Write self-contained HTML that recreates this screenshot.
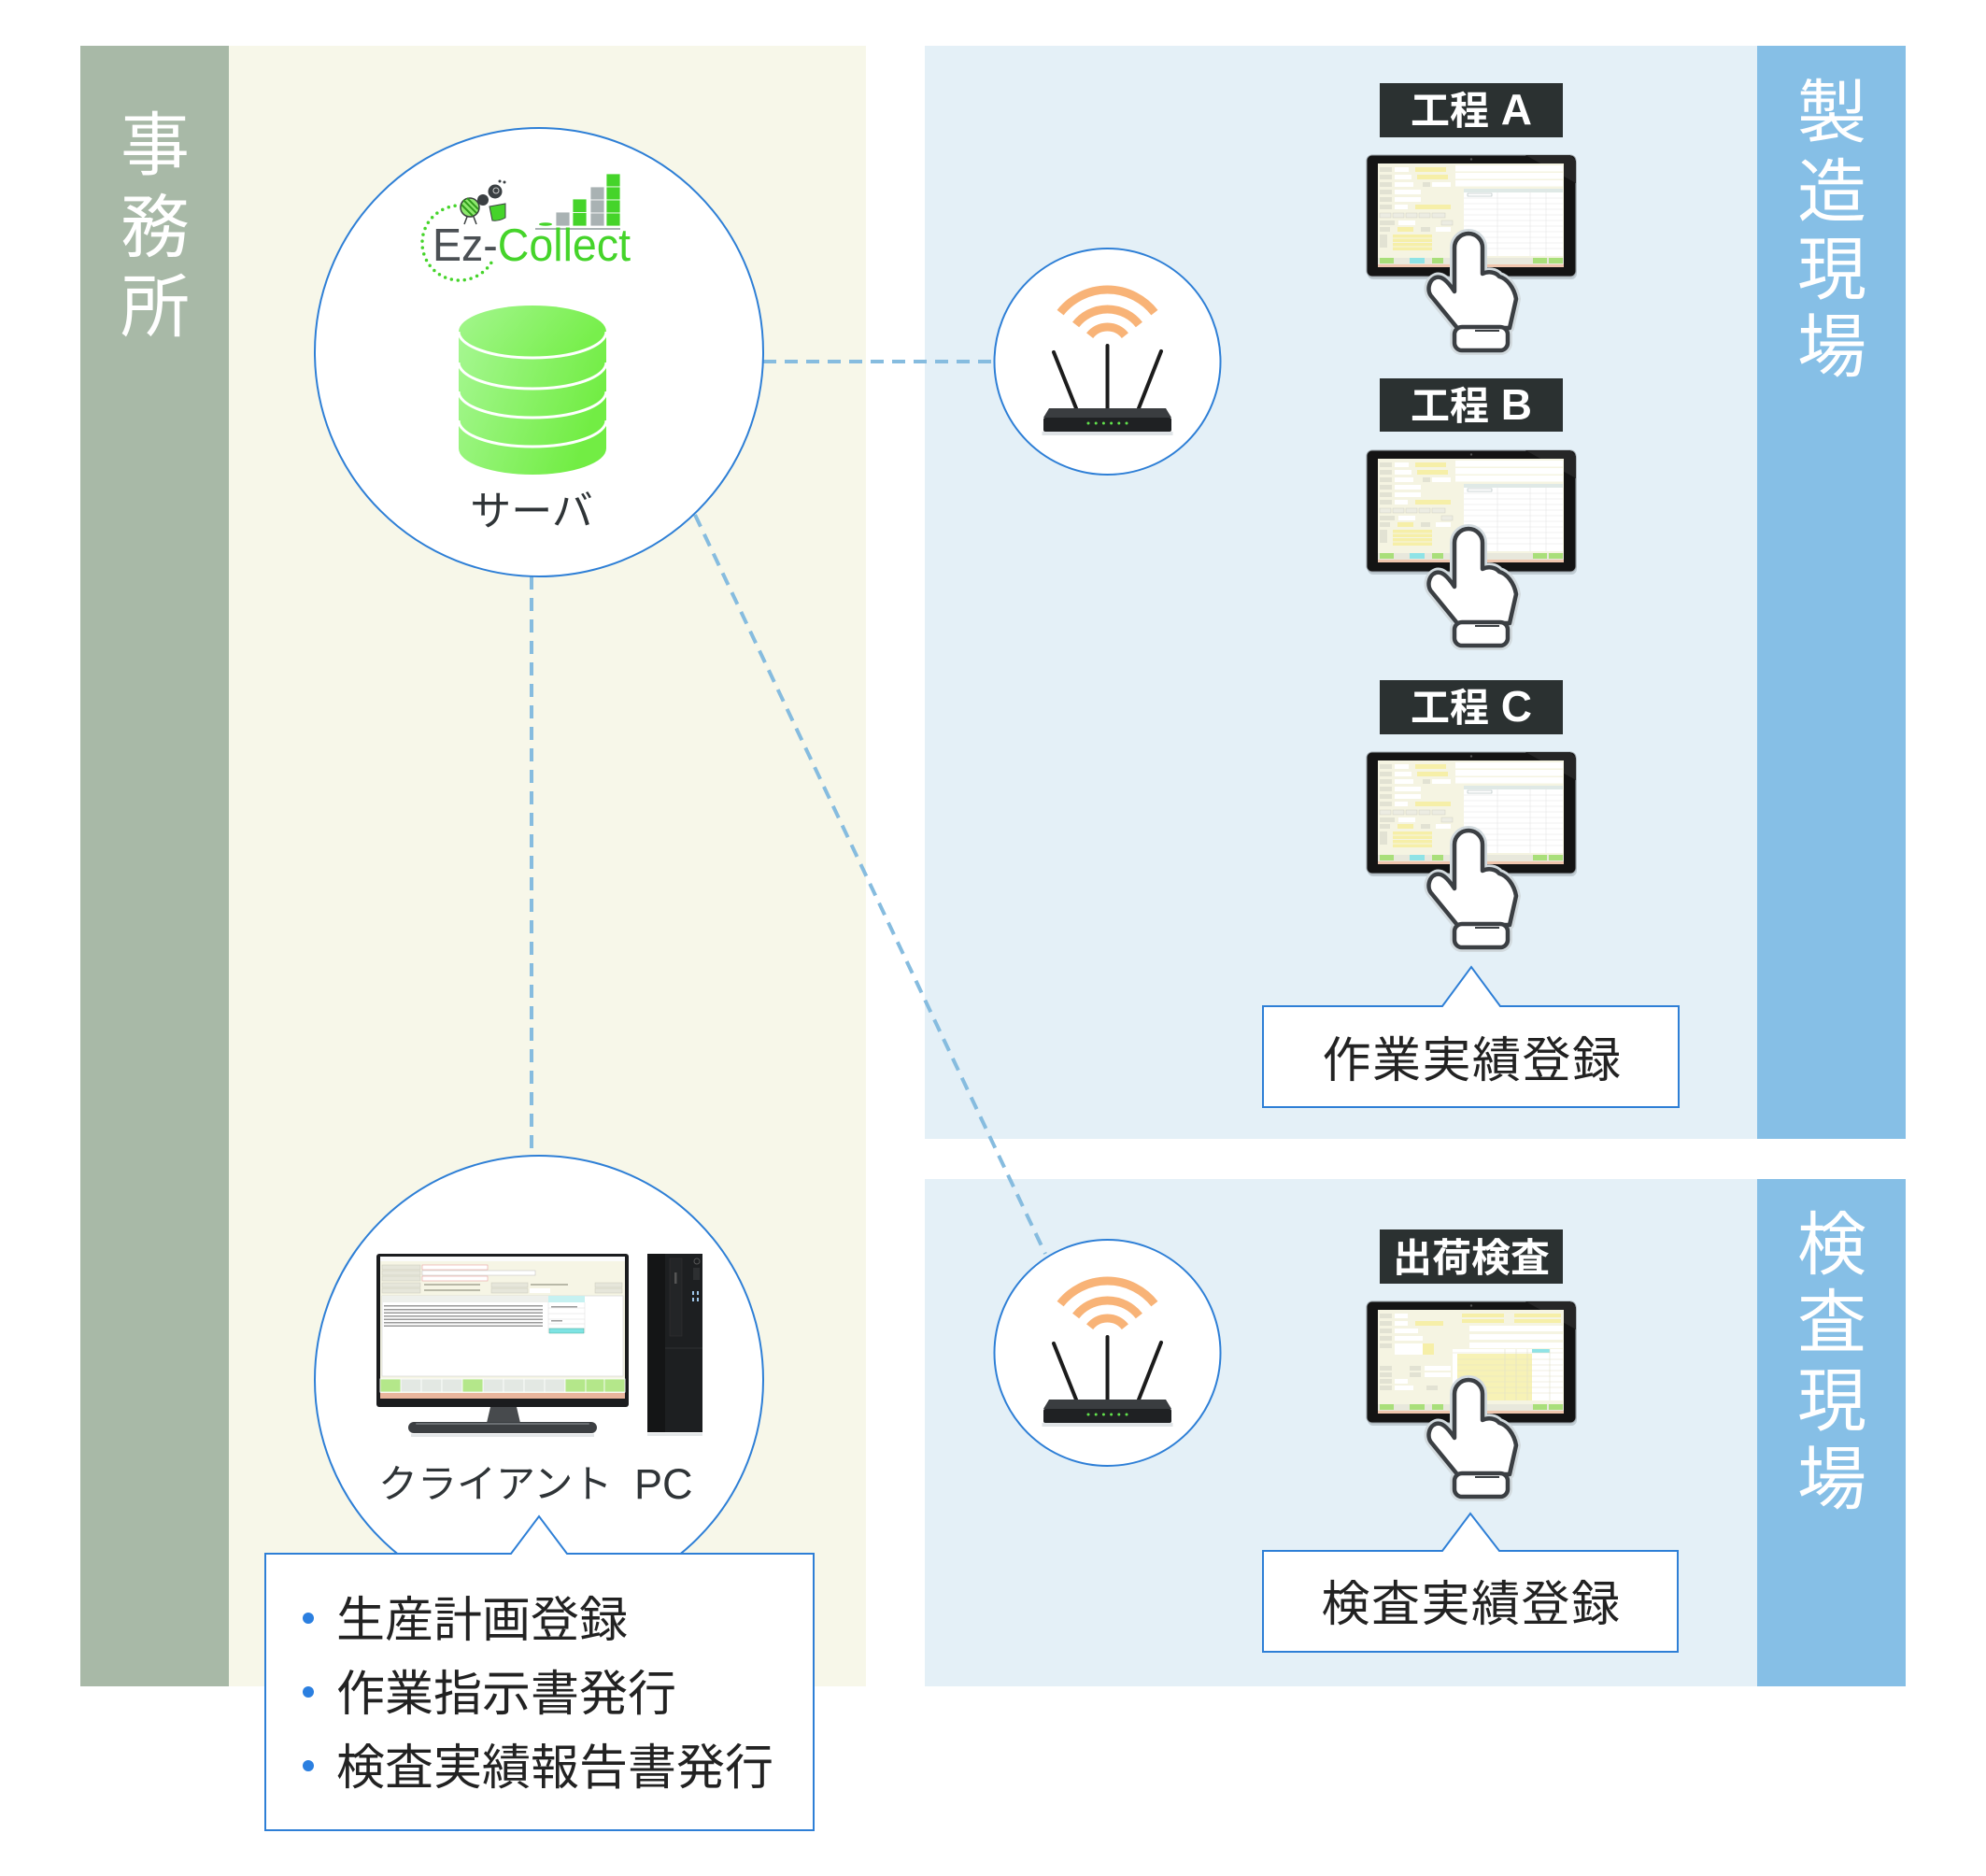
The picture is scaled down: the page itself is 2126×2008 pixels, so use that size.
<!DOCTYPE html>
<html><head><meta charset="utf-8"><style>
html,body{margin:0;padding:0;background:#fff;}
body{width:2126px;height:2008px;overflow:hidden;}
svg{display:block;}
</style></head><body>
<svg width="2126" height="2008" viewBox="0 0 2126 2008" xmlns="http://www.w3.org/2000/svg" font-family="'Liberation Sans','Noto Sans CJK JP',sans-serif">
<defs>
<linearGradient id="cyl" x1="0" y1="0" x2="1" y2="0.35"><stop offset="0" stop-color="#a6f792"/><stop offset="1" stop-color="#72ed44"/></linearGradient>
<linearGradient id="cyltop" x1="0" y1="0" x2="1" y2="0.3"><stop offset="0" stop-color="#a4f68f"/><stop offset="1" stop-color="#78ef4c"/></linearGradient>
</defs>
<rect width="2126" height="2008" fill="#fff"/>
<!-- zones -->
<rect x="86" y="49" width="159" height="1756" fill="#a8b9a7"/>
<rect x="245" y="49" width="682" height="1756" fill="#f7f7e9"/>
<rect x="990" y="49" width="891" height="1170" fill="#e4f0f7"/>
<rect x="1881" y="49" width="159" height="1170" fill="#86bfe6"/>
<rect x="990" y="1262" width="891" height="543" fill="#e4f0f7"/>
<rect x="1881" y="1262" width="159" height="543" fill="#86bfe6"/>

<!-- vertical labels -->
<g fill="#ffffff" font-size="74" text-anchor="middle">
<text x="166" y="181">事</text><text x="166" y="269">務</text><text x="166" y="354">所</text>
<text x="1961" y="146">製</text><text x="1961" y="231">造</text><text x="1961" y="314">現</text><text x="1961" y="397">場</text>
<text x="1961" y="1358">検</text><text x="1961" y="1441">査</text><text x="1961" y="1525">現</text><text x="1961" y="1609">場</text>
</g>

<!-- dashed connectors -->
<g stroke="#86bcdf" stroke-width="4" stroke-dasharray="14 9" fill="none">
<line x1="817" y1="387" x2="1064" y2="387"/>
<line x1="569" y1="617" x2="569" y2="1237"/>
<line x1="744" y1="551" x2="1119" y2="1342"/>
</g>

<!-- server circle -->
<circle cx="577" cy="377" r="240" fill="#fff" stroke="#2e7fd6" stroke-width="2"/>
<!-- logo -->
<path d="M487.1,220.3 A40,40 0 1 0 526.6,280" fill="none" stroke="#45d42a" stroke-width="3.5" stroke-linecap="round" stroke-dasharray="0 7"/>
<g>
<circle cx="503" cy="222" r="10" fill="#8ee86e" stroke="#3a3f3f" stroke-width="1.5"/>
<path d="M496,214 L510,228 M500,212 L512,224 M494,219 L506,231" stroke="#2f9a1a" stroke-width="2"/>
<line x1="500" y1="232" x2="497" y2="240" stroke="#3a3f3f" stroke-width="1.5"/>
<line x1="507" y1="232" x2="510" y2="240" stroke="#3a3f3f" stroke-width="1.5"/>
<circle cx="517" cy="214" r="6" fill="#3a3f42"/>
<circle cx="530" cy="205" r="7.5" fill="#3a3f42"/>
<circle cx="531" cy="204" r="3" fill="none" stroke="#ccc" stroke-width="1"/>
<circle cx="535" cy="194" r="1.5" fill="#3a3f42"/><circle cx="540" cy="195" r="1.5" fill="#3a3f42"/>
<path d="M524,221 L541,218 L541,233 Q534,237 527,236 Z" fill="#45d42a" stroke="#3a3f42" stroke-width="1"/>
</g>
<line x1="573" y1="245" x2="664" y2="245" stroke="#a9b2b3" stroke-width="2"/>
<ellipse cx="584" cy="240" rx="7" ry="1.8" fill="#45d42a"/>
<g stroke="#fff" stroke-width="0.8">
<rect x="595" y="227" width="15" height="15" fill="#a9b2b3"/>
<rect x="613" y="213" width="15" height="14.5" fill="#45d42a"/><rect x="613" y="227.5" width="15" height="14.5" fill="#45d42a"/>
<rect x="632" y="200" width="15" height="14" fill="#a9b2b3"/><rect x="632" y="214" width="15" height="14" fill="#a9b2b3"/><rect x="632" y="228" width="15" height="14" fill="#a9b2b3"/>
<rect x="649" y="186" width="15" height="14" fill="#45d42a"/><rect x="649" y="200" width="15" height="14" fill="#45d42a"/><rect x="649" y="214" width="15" height="14" fill="#45d42a"/><rect x="649" y="228" width="15" height="14" fill="#45d42a"/>
</g>
<text x="463" y="279" font-size="49" textLength="212" lengthAdjust="spacingAndGlyphs"><tspan fill="#4b5054">Ez-</tspan><tspan fill="#45d42a">Collect</tspan></text>
<!-- database -->
<path d="M491,355 L491,480 A79,28 0 0 0 649,480 L649,355 Z" fill="url(#cyl)"/>
<ellipse cx="570" cy="355" rx="79" ry="28" fill="url(#cyltop)"/>
<g fill="none" stroke="#fff" stroke-width="3">
<path d="M491,355 A79,28 0 0 0 649,355"/>
<path d="M491,388 A79,28 0 0 0 649,388"/>
<path d="M491,419 A79,28 0 0 0 649,419"/>
<path d="M491,450 A79,28 0 0 0 649,450"/>
</g>
<text x="569" y="562" font-size="44" text-anchor="middle" fill="#2f3437">サーバ</text>

<!-- routers -->
<circle cx="1185.5" cy="387" r="121" fill="#fff" stroke="#2e7fd6" stroke-width="2"/>
<g transform="translate(1185.5,387)">
<g fill="none" stroke="#f8b377" stroke-width="9">
<path d="M-50.4,-52.4 A64,64 0 0 1 50.4,-52.4"/>
<path d="M-33.9,-39.5 A43,43 0 0 1 33.9,-39.5"/>
<path d="M-18.9,-27.8 A24,24 0 0 1 18.9,-27.8"/>
</g>
<g stroke="#1c1c1c" stroke-width="4" stroke-linecap="round">
<line x1="-57.5" y1="-10" x2="-33.5" y2="50"/><line x1="0" y1="-17" x2="0" y2="50"/><line x1="57.5" y1="-11" x2="33.5" y2="50"/>
</g>
<rect x="-70" y="75" width="140" height="4" fill="#dfe3e6"/>
<polygon points="-62.5,50 62.5,50 68.5,60 -68.5,60" fill="#3a3d40"/>
<rect x="-68.5" y="60" width="137" height="15" rx="2" fill="#1f2123"/>
<g fill="#62e24c"><circle cx="-20.5" cy="66" r="1.5"/><circle cx="-12.3" cy="66" r="1.5"/><circle cx="-4.1" cy="66" r="1.5"/><circle cx="4.1" cy="66" r="1.5"/><circle cx="12.3" cy="66" r="1.5"/><circle cx="20.5" cy="66" r="1.5"/></g>
</g>
<circle cx="1185.5" cy="1448" r="121" fill="#fff" stroke="#2e7fd6" stroke-width="2"/>
<g transform="translate(1185.5,1448)">
<g fill="none" stroke="#f8b377" stroke-width="9">
<path d="M-50.4,-52.4 A64,64 0 0 1 50.4,-52.4"/>
<path d="M-33.9,-39.5 A43,43 0 0 1 33.9,-39.5"/>
<path d="M-18.9,-27.8 A24,24 0 0 1 18.9,-27.8"/>
</g>
<g stroke="#1c1c1c" stroke-width="4" stroke-linecap="round">
<line x1="-57.5" y1="-10" x2="-33.5" y2="50"/><line x1="0" y1="-17" x2="0" y2="50"/><line x1="57.5" y1="-11" x2="33.5" y2="50"/>
</g>
<rect x="-70" y="75" width="140" height="4" fill="#dfe3e6"/>
<polygon points="-62.5,50 62.5,50 68.5,60 -68.5,60" fill="#3a3d40"/>
<rect x="-68.5" y="60" width="137" height="15" rx="2" fill="#1f2123"/>
<g fill="#62e24c"><circle cx="-20.5" cy="66" r="1.5"/><circle cx="-12.3" cy="66" r="1.5"/><circle cx="-4.1" cy="66" r="1.5"/><circle cx="4.1" cy="66" r="1.5"/><circle cx="12.3" cy="66" r="1.5"/><circle cx="20.5" cy="66" r="1.5"/></g>
</g>

<!-- process labels -->
<rect x="1477" y="89" width="196" height="58" fill="#2b3131"/>
<rect x="1477" y="405" width="196" height="57" fill="#2b3131"/>
<rect x="1477" y="728" width="196" height="58" fill="#2b3131"/>
<rect x="1477" y="1316" width="196" height="58" fill="#2b3131"/>
<g fill="#fff" text-anchor="middle" font-weight="bold">
<text x="1575" y="133" font-size="42">工程<tspan font-size="46"> A</tspan></text>
<text x="1575" y="449" font-size="42">工程<tspan font-size="46"> B</tspan></text>
<text x="1575" y="772" font-size="42">工程<tspan font-size="46"> C</tspan></text>
<text x="1575" y="1361" font-size="42">出荷検査</text>
</g>

<!-- tablet A -->
<g transform="translate(1463,166)">
<rect x="1" y="3" width="224" height="130" rx="6" fill="#7f8a90" opacity=".35"/>
<rect width="224" height="130" rx="6" fill="#141414" stroke="#9aa2a7" stroke-width="1"/>
<polygon points="170,0 218,0 224,6 224,30" fill="#262626"/>
<circle cx="112" cy="4.5" r="1.2" fill="#555"/>
<rect x="12" y="9" width="199" height="111" fill="#f5f4e2"/>
<g fill="#fff"><rect x="95" y="11" width="115" height="6.5"/><rect x="95" y="19" width="115" height="6.5"/><rect x="95" y="27" width="115" height="6.5"/><rect x="104" y="36" width="106" height="72"/></g>
<rect x="104" y="36" width="106" height="4" fill="#dfe9e6"/>
<path d="M104 46H210M104 52H210M104 58H210M104 64H210M104 70H210M104 76H210M104 82H210M104 88H210M104 94H210M104 100H210M140 36V108M175 36V108M192 36V108" stroke="#e4e4e4" stroke-width=".6"/>
<rect x="108" y="41" width="26" height="3" fill="#fff" stroke="#9aa" stroke-width=".5"/>
<g fill="#e2e2d3"><rect x="14" y="13" width="13" height="5"/><rect x="14" y="21" width="13" height="5"/><rect x="14" y="29" width="13" height="5"/><rect x="14" y="37" width="13" height="5"/><rect x="14" y="45" width="13" height="5"/><rect x="14" y="53" width="13" height="5"/><rect x="14" y="70" width="16" height="5"/><rect x="14" y="77" width="11" height="5"/><rect x="58" y="77" width="10" height="5"/><rect x="60" y="29" width="8" height="5"/><rect x="14" y="85" width="8" height="14"/></g>
<g fill="#fff"><rect x="30" y="13" width="15" height="5"/><rect x="30" y="21" width="18" height="5"/><rect x="30" y="29" width="20" height="5"/><rect x="70" y="29" width="20" height="5"/><rect x="30" y="37" width="28" height="5"/><rect x="30" y="45" width="28" height="5"/><rect x="30" y="53" width="14" height="5"/><rect x="34" y="70" width="18" height="5"/><rect x="74" y="77" width="16" height="5"/></g>
<g fill="#f6efa8"><rect x="52" y="13" width="33" height="5"/><rect x="54" y="21" width="33" height="5"/><rect x="52" y="53" width="38" height="5"/><rect x="33" y="77" width="17" height="5"/><rect x="28" y="85" width="42" height="3.5"/><rect x="28" y="89.5" width="42" height="3.5"/><rect x="28" y="94" width="42" height="3.5"/><rect x="28" y="98.5" width="42" height="3.5"/></g>
<g fill="#ecece2" stroke="#cfcfc0" stroke-width=".5"><rect x="14" y="62" width="12" height="5"/><rect x="28" y="62" width="12" height="5"/><rect x="42" y="62" width="12" height="5"/><rect x="56" y="62" width="12" height="5"/><rect x="70" y="62" width="14" height="5"/><rect x="80" y="70" width="12" height="5"/></g>
<rect x="12" y="110" width="199" height="7" fill="#e8e8dc"/>
<g fill="#a9df7a"><rect x="14" y="110" width="15" height="6"/><rect x="70" y="110" width="12" height="6"/><rect x="178" y="110" width="15" height="6"/><rect x="195" y="110" width="15" height="6"/></g>
<rect x="46" y="110" width="16" height="6" fill="#8fe3e6"/>
<rect x="12" y="117" width="199" height="3" fill="#f0c6ae"/>
</g>
<g transform="translate(1527,250)">
<path d="M30,15 A15,15 0 0 1 60,15 L60,43 C66,40 74,41 78,46 C86,48 94,58 96,70 L89,101 L33,101 L6,68 C0,62 2,50 10,47 C16,45 22,50 30,62 Z" fill="none" stroke="#d2dade" stroke-width="10" stroke-linejoin="round"/>
<rect x="30" y="100" width="57" height="25" rx="8" fill="none" stroke="#d2dade" stroke-width="10"/>
<path d="M30,15 A15,15 0 0 1 60,15 L60,43 C66,40 74,41 78,46 C86,48 94,58 96,70 L89,101 L33,101 L6,68 C0,62 2,50 10,47 C16,45 22,50 30,62 Z" fill="#fff" stroke="#3b3f43" stroke-width="4.5" stroke-linejoin="round"/>
<rect x="30" y="100" width="57" height="25" rx="8" fill="#fff" stroke="#3b3f43" stroke-width="4.5"/>
<line x1="52" y1="104" x2="78" y2="104" stroke="#3b3f43" stroke-width="2"/>
</g>

<!-- tablet B -->
<g transform="translate(1463,482)">
<rect x="1" y="3" width="224" height="130" rx="6" fill="#7f8a90" opacity=".35"/>
<rect width="224" height="130" rx="6" fill="#141414" stroke="#9aa2a7" stroke-width="1"/>
<polygon points="170,0 218,0 224,6 224,30" fill="#262626"/>
<circle cx="112" cy="4.5" r="1.2" fill="#555"/>
<rect x="12" y="9" width="199" height="111" fill="#f5f4e2"/>
<g fill="#fff"><rect x="95" y="11" width="115" height="6.5"/><rect x="95" y="19" width="115" height="6.5"/><rect x="95" y="27" width="115" height="6.5"/><rect x="104" y="36" width="106" height="72"/></g>
<rect x="104" y="36" width="106" height="4" fill="#dfe9e6"/>
<path d="M104 46H210M104 52H210M104 58H210M104 64H210M104 70H210M104 76H210M104 82H210M104 88H210M104 94H210M104 100H210M140 36V108M175 36V108M192 36V108" stroke="#e4e4e4" stroke-width=".6"/>
<rect x="108" y="41" width="26" height="3" fill="#fff" stroke="#9aa" stroke-width=".5"/>
<g fill="#e2e2d3"><rect x="14" y="13" width="13" height="5"/><rect x="14" y="21" width="13" height="5"/><rect x="14" y="29" width="13" height="5"/><rect x="14" y="37" width="13" height="5"/><rect x="14" y="45" width="13" height="5"/><rect x="14" y="53" width="13" height="5"/><rect x="14" y="70" width="16" height="5"/><rect x="14" y="77" width="11" height="5"/><rect x="58" y="77" width="10" height="5"/><rect x="60" y="29" width="8" height="5"/><rect x="14" y="85" width="8" height="14"/></g>
<g fill="#fff"><rect x="30" y="13" width="15" height="5"/><rect x="30" y="21" width="18" height="5"/><rect x="30" y="29" width="20" height="5"/><rect x="70" y="29" width="20" height="5"/><rect x="30" y="37" width="28" height="5"/><rect x="30" y="45" width="28" height="5"/><rect x="30" y="53" width="14" height="5"/><rect x="34" y="70" width="18" height="5"/><rect x="74" y="77" width="16" height="5"/></g>
<g fill="#f6efa8"><rect x="52" y="13" width="33" height="5"/><rect x="54" y="21" width="33" height="5"/><rect x="52" y="53" width="38" height="5"/><rect x="33" y="77" width="17" height="5"/><rect x="28" y="85" width="42" height="3.5"/><rect x="28" y="89.5" width="42" height="3.5"/><rect x="28" y="94" width="42" height="3.5"/><rect x="28" y="98.5" width="42" height="3.5"/></g>
<g fill="#ecece2" stroke="#cfcfc0" stroke-width=".5"><rect x="14" y="62" width="12" height="5"/><rect x="28" y="62" width="12" height="5"/><rect x="42" y="62" width="12" height="5"/><rect x="56" y="62" width="12" height="5"/><rect x="70" y="62" width="14" height="5"/><rect x="80" y="70" width="12" height="5"/></g>
<rect x="12" y="110" width="199" height="7" fill="#e8e8dc"/>
<g fill="#a9df7a"><rect x="14" y="110" width="15" height="6"/><rect x="70" y="110" width="12" height="6"/><rect x="178" y="110" width="15" height="6"/><rect x="195" y="110" width="15" height="6"/></g>
<rect x="46" y="110" width="16" height="6" fill="#8fe3e6"/>
<rect x="12" y="117" width="199" height="3" fill="#f0c6ae"/>
</g>
<g transform="translate(1527,566)">
<path d="M30,15 A15,15 0 0 1 60,15 L60,43 C66,40 74,41 78,46 C86,48 94,58 96,70 L89,101 L33,101 L6,68 C0,62 2,50 10,47 C16,45 22,50 30,62 Z" fill="none" stroke="#d2dade" stroke-width="10" stroke-linejoin="round"/>
<rect x="30" y="100" width="57" height="25" rx="8" fill="none" stroke="#d2dade" stroke-width="10"/>
<path d="M30,15 A15,15 0 0 1 60,15 L60,43 C66,40 74,41 78,46 C86,48 94,58 96,70 L89,101 L33,101 L6,68 C0,62 2,50 10,47 C16,45 22,50 30,62 Z" fill="#fff" stroke="#3b3f43" stroke-width="4.5" stroke-linejoin="round"/>
<rect x="30" y="100" width="57" height="25" rx="8" fill="#fff" stroke="#3b3f43" stroke-width="4.5"/>
<line x1="52" y1="104" x2="78" y2="104" stroke="#3b3f43" stroke-width="2"/>
</g>

<!-- tablet C -->
<g transform="translate(1463,805)">
<rect x="1" y="3" width="224" height="130" rx="6" fill="#7f8a90" opacity=".35"/>
<rect width="224" height="130" rx="6" fill="#141414" stroke="#9aa2a7" stroke-width="1"/>
<polygon points="170,0 218,0 224,6 224,30" fill="#262626"/>
<circle cx="112" cy="4.5" r="1.2" fill="#555"/>
<rect x="12" y="9" width="199" height="111" fill="#f5f4e2"/>
<g fill="#fff"><rect x="95" y="11" width="115" height="6.5"/><rect x="95" y="19" width="115" height="6.5"/><rect x="95" y="27" width="115" height="6.5"/><rect x="104" y="36" width="106" height="72"/></g>
<rect x="104" y="36" width="106" height="4" fill="#dfe9e6"/>
<path d="M104 46H210M104 52H210M104 58H210M104 64H210M104 70H210M104 76H210M104 82H210M104 88H210M104 94H210M104 100H210M140 36V108M175 36V108M192 36V108" stroke="#e4e4e4" stroke-width=".6"/>
<rect x="108" y="41" width="26" height="3" fill="#fff" stroke="#9aa" stroke-width=".5"/>
<g fill="#e2e2d3"><rect x="14" y="13" width="13" height="5"/><rect x="14" y="21" width="13" height="5"/><rect x="14" y="29" width="13" height="5"/><rect x="14" y="37" width="13" height="5"/><rect x="14" y="45" width="13" height="5"/><rect x="14" y="53" width="13" height="5"/><rect x="14" y="70" width="16" height="5"/><rect x="14" y="77" width="11" height="5"/><rect x="58" y="77" width="10" height="5"/><rect x="60" y="29" width="8" height="5"/><rect x="14" y="85" width="8" height="14"/></g>
<g fill="#fff"><rect x="30" y="13" width="15" height="5"/><rect x="30" y="21" width="18" height="5"/><rect x="30" y="29" width="20" height="5"/><rect x="70" y="29" width="20" height="5"/><rect x="30" y="37" width="28" height="5"/><rect x="30" y="45" width="28" height="5"/><rect x="30" y="53" width="14" height="5"/><rect x="34" y="70" width="18" height="5"/><rect x="74" y="77" width="16" height="5"/></g>
<g fill="#f6efa8"><rect x="52" y="13" width="33" height="5"/><rect x="54" y="21" width="33" height="5"/><rect x="52" y="53" width="38" height="5"/><rect x="33" y="77" width="17" height="5"/><rect x="28" y="85" width="42" height="3.5"/><rect x="28" y="89.5" width="42" height="3.5"/><rect x="28" y="94" width="42" height="3.5"/><rect x="28" y="98.5" width="42" height="3.5"/></g>
<g fill="#ecece2" stroke="#cfcfc0" stroke-width=".5"><rect x="14" y="62" width="12" height="5"/><rect x="28" y="62" width="12" height="5"/><rect x="42" y="62" width="12" height="5"/><rect x="56" y="62" width="12" height="5"/><rect x="70" y="62" width="14" height="5"/><rect x="80" y="70" width="12" height="5"/></g>
<rect x="12" y="110" width="199" height="7" fill="#e8e8dc"/>
<g fill="#a9df7a"><rect x="14" y="110" width="15" height="6"/><rect x="70" y="110" width="12" height="6"/><rect x="178" y="110" width="15" height="6"/><rect x="195" y="110" width="15" height="6"/></g>
<rect x="46" y="110" width="16" height="6" fill="#8fe3e6"/>
<rect x="12" y="117" width="199" height="3" fill="#f0c6ae"/>
</g>
<g transform="translate(1527,889)">
<path d="M30,15 A15,15 0 0 1 60,15 L60,43 C66,40 74,41 78,46 C86,48 94,58 96,70 L89,101 L33,101 L6,68 C0,62 2,50 10,47 C16,45 22,50 30,62 Z" fill="none" stroke="#d2dade" stroke-width="10" stroke-linejoin="round"/>
<rect x="30" y="100" width="57" height="25" rx="8" fill="none" stroke="#d2dade" stroke-width="10"/>
<path d="M30,15 A15,15 0 0 1 60,15 L60,43 C66,40 74,41 78,46 C86,48 94,58 96,70 L89,101 L33,101 L6,68 C0,62 2,50 10,47 C16,45 22,50 30,62 Z" fill="#fff" stroke="#3b3f43" stroke-width="4.5" stroke-linejoin="round"/>
<rect x="30" y="100" width="57" height="25" rx="8" fill="#fff" stroke="#3b3f43" stroke-width="4.5"/>
<line x1="52" y1="104" x2="78" y2="104" stroke="#3b3f43" stroke-width="2"/>
</g>

<!-- inspection tablet -->
<g transform="translate(1463,1393)">
<rect x="1" y="3" width="224" height="130" rx="6" fill="#7f8a90" opacity=".35"/>
<rect width="224" height="130" rx="6" fill="#141414" stroke="#9aa2a7" stroke-width="1"/>
<polygon points="170,0 218,0 224,6 224,30" fill="#262626"/>
<circle cx="112" cy="4.5" r="1.2" fill="#555"/>
<rect x="12" y="9" width="199" height="111" fill="#f5f4e2"/>
<g fill="#f6efa8"><rect x="102" y="13" width="45" height="4"/><rect x="158" y="13" width="50" height="4"/><rect x="102" y="19" width="45" height="4"/><rect x="158" y="19" width="50" height="4"/></g>
<g fill="#fff"><rect x="110" y="26" width="100" height="6"/><rect x="110" y="35" width="100" height="6"/><rect x="110" y="44" width="100" height="6"/><rect x="92" y="51" width="118" height="55"/></g>
<rect x="97" y="56" width="80" height="50" fill="#f7f2b6"/>
<rect x="177" y="51" width="19" height="4" fill="#8fe3e6"/>
<path d="M92 55H210M148 51V106M160 51V106M172 51V106M196 51V106M97 62H210M97 68H210M97 74H210M97 80H210M97 86H210M97 92H210M97 98H210" stroke="#e2e0c8" stroke-width=".6"/>
<g fill="#e2e2d3"><rect x="14" y="13" width="13" height="5"/><rect x="14" y="21" width="13" height="5"/><rect x="14" y="29" width="13" height="5"/><rect x="14" y="37" width="13" height="5"/><rect x="14" y="45" width="13" height="5"/><rect x="14" y="69" width="13" height="5"/><rect x="14" y="76" width="13" height="5"/><rect x="14" y="83" width="13" height="5"/><rect x="14" y="90" width="13" height="5"/><rect x="46" y="69" width="12" height="5"/><rect x="46" y="76" width="12" height="5"/><rect x="64" y="90" width="12" height="5"/></g>
<g fill="#fff"><rect x="30" y="13" width="14" height="5"/><rect x="30" y="21" width="14" height="5"/><rect x="30" y="29" width="25" height="5"/><rect x="30" y="37" width="30" height="5"/><rect x="30" y="45" width="40" height="12"/><rect x="62" y="69" width="28" height="5"/><rect x="62" y="76" width="28" height="5"/><rect x="30" y="83" width="14" height="5"/><rect x="30" y="90" width="20" height="5"/></g>
<g fill="#f6efa8"><rect x="52" y="21" width="30" height="5"/><rect x="60" y="45" width="12" height="12"/></g>
<rect x="12" y="110" width="199" height="7" fill="#e8e8dc"/>
<g fill="#a9df7a"><rect x="14" y="110" width="15" height="6"/><rect x="46" y="110" width="16" height="6"/><rect x="70" y="110" width="12" height="6"/><rect x="178" y="110" width="15" height="6"/><rect x="195" y="110" width="15" height="6"/></g>
<rect x="12" y="117" width="199" height="3" fill="#f0c6ae"/>
</g>
<g transform="translate(1527,1477)">
<path d="M30,15 A15,15 0 0 1 60,15 L60,43 C66,40 74,41 78,46 C86,48 94,58 96,70 L89,101 L33,101 L6,68 C0,62 2,50 10,47 C16,45 22,50 30,62 Z" fill="none" stroke="#d2dade" stroke-width="10" stroke-linejoin="round"/>
<rect x="30" y="100" width="57" height="25" rx="8" fill="none" stroke="#d2dade" stroke-width="10"/>
<path d="M30,15 A15,15 0 0 1 60,15 L60,43 C66,40 74,41 78,46 C86,48 94,58 96,70 L89,101 L33,101 L6,68 C0,62 2,50 10,47 C16,45 22,50 30,62 Z" fill="#fff" stroke="#3b3f43" stroke-width="4.5" stroke-linejoin="round"/>
<rect x="30" y="100" width="57" height="25" rx="8" fill="#fff" stroke="#3b3f43" stroke-width="4.5"/>
<line x1="52" y1="104" x2="78" y2="104" stroke="#3b3f43" stroke-width="2"/>
</g>

<!-- callout boxes right -->
<path d="M1352,1077 L1544,1077 L1575,1035 L1606,1077 L1797,1077 L1797,1185 L1352,1185 Z" fill="#fff" stroke="#2e7fd6" stroke-width="2"/>
<text x="1576" y="1153" font-size="52" text-anchor="middle" letter-spacing="1.5" fill="#222">作業実績登録</text>
<path d="M1352,1660 L1544,1660 L1574,1620 L1605,1660 L1796,1660 L1796,1768 L1352,1768 Z" fill="#fff" stroke="#2e7fd6" stroke-width="2"/>
<text x="1575" y="1735" font-size="52" text-anchor="middle" letter-spacing="1.5" fill="#222">検査実績登録</text>

<!-- client PC circle -->
<circle cx="577" cy="1477" r="240" fill="#fff" stroke="#2e7fd6" stroke-width="2"/>
<!-- monitor -->
<rect x="403" y="1342" width="270" height="164" rx="3" fill="#1b1c1e"/>
<rect x="407" y="1345" width="262" height="152" fill="#f6f5e5"/>
<rect x="407" y="1345" width="262" height="5" fill="#fbfbfb"/>
<g fill="#e6e6da" stroke="#c9c9bb" stroke-width=".5">
<rect x="409" y="1354" width="41" height="5"/><rect x="409" y="1360" width="41" height="5"/><rect x="409" y="1366" width="41" height="5"/><rect x="409" y="1373" width="41" height="5"/><rect x="409" y="1379" width="41" height="5"/>
<rect x="526" y="1373" width="39" height="5"/><rect x="526" y="1379" width="39" height="5"/><rect x="637" y="1373" width="29" height="5"/><rect x="637" y="1379" width="29" height="5"/>
</g>
<g fill="#fff"><rect x="452" y="1354" width="70" height="5" stroke="#e8a0a0" stroke-width=".6"/><rect x="452" y="1360" width="121" height="5" stroke="#bbb" stroke-width=".5"/><rect x="452" y="1366" width="70" height="5" stroke="#e8a0a0" stroke-width=".6"/><rect x="567" y="1379" width="22" height="5"/></g>
<g fill="#b9b9a8"><rect x="454" y="1374" width="60" height="2"/><rect x="454" y="1380" width="60" height="2"/><rect x="568" y="1374" width="40" height="2"/></g>
<rect x="409" y="1387" width="258" height="86" fill="#fff" stroke="#cfcfcf" stroke-width=".6"/>
<rect x="409" y="1387" width="178" height="7" fill="#eef0ec"/>
<rect x="587" y="1387" width="39" height="7" fill="#c6f1f1"/>
<g fill="#9a9a9a"><rect x="411" y="1397" width="170" height="1.5"/><rect x="411" y="1401" width="170" height="1.5"/><rect x="411" y="1404.5" width="170" height="1.5"/><rect x="411" y="1408" width="170" height="1.5"/><rect x="411" y="1411.5" width="170" height="1.5"/><rect x="411" y="1415" width="170" height="1.5"/><rect x="411" y="1418.5" width="170" height="1.5"/><rect x="590" y="1398" width="28" height="1.5"/><rect x="590" y="1413" width="12" height="1.5"/></g>
<path d="M587 1394V1427M626 1394V1427M587 1400H626M587 1406H626M587 1412H626M587 1417H626M587 1422H626" stroke="#dcdcdc" stroke-width=".5"/>
<rect x="588" y="1422" width="37" height="5" fill="#7ee3e3" stroke="#4a9" stroke-width=".5"/>
<g fill="#e3e8e3" stroke="#fff" stroke-width=".8"><rect x="407" y="1476" width="22" height="14"/><rect x="429" y="1476" width="22" height="14"/><rect x="451" y="1476" width="22" height="14"/><rect x="473" y="1476" width="22" height="14"/><rect x="495" y="1476" width="22" height="14"/><rect x="517" y="1476" width="22" height="14"/><rect x="539" y="1476" width="22" height="14"/><rect x="561" y="1476" width="22" height="14"/><rect x="583" y="1476" width="22" height="14"/><rect x="605" y="1476" width="22" height="14"/><rect x="627" y="1476" width="20" height="14"/><rect x="647" y="1476" width="22" height="14"/></g>
<g fill="#b4e78a" stroke="#fff" stroke-width=".8"><rect x="407" y="1476" width="22" height="14"/><rect x="495" y="1476" width="22" height="14"/><rect x="605" y="1476" width="22" height="14"/><rect x="627" y="1476" width="20" height="14"/><rect x="647" y="1476" width="22" height="14"/></g>
<rect x="407" y="1491" width="262" height="6" fill="#e9b59c"/>
<polygon points="525,1506 553,1506 557,1523 521,1523" fill="#474a4d"/>
<rect x="437" y="1522" width="202" height="12" rx="6" fill="#3c3f42"/>
<rect x="445" y="1523" width="186" height="2" rx="1" fill="#6a6e72"/>
<rect x="440" y="1535" width="196" height="3" fill="#e3e6e8"/>
<!-- tower -->
<rect x="693" y="1342" width="59" height="191" fill="#1d1f21"/>
<rect x="693" y="1342" width="19" height="191" fill="#141516"/>
<rect x="717" y="1347" width="13" height="83" fill="#232527" stroke="#333" stroke-width=".6"/>
<rect x="722" y="1362" width="2.5" height="12" fill="#555"/>
<circle cx="746" cy="1350" r="3" fill="none" stroke="#555" stroke-width="1"/>
<rect x="742" y="1357" width="7" height="13" fill="#2d2f31"/>
<g fill="#9fc6e8"><rect x="741" y="1382" width="2" height="4"/><rect x="746" y="1382" width="2" height="4"/><rect x="741" y="1389" width="2" height="4"/><rect x="746" y="1389" width="2" height="4"/></g>
<line x1="712" y1="1443" x2="752" y2="1443" stroke="#2e3133" stroke-width="1"/>
<rect x="693" y="1534" width="59" height="3" fill="#e3e6e8"/>
<text x="405" y="1603" font-size="42" fill="#2f3437">クライアント</text>
<text x="679" y="1604" font-size="45" fill="#2f3437">PC</text>

<!-- list callout -->
<path d="M284,1663 L547,1663 L577,1623 L607,1663 L871,1663 L871,1959 L284,1959 Z" fill="#fff" stroke="#2e7fd6" stroke-width="2"/>
<g fill="#2b7fe0"><circle cx="330" cy="1732" r="6"/><circle cx="330" cy="1811" r="6"/><circle cx="330" cy="1890" r="6"/></g>
<g font-size="52" fill="#222">
<text x="360" y="1752">生産計画登録</text>
<text x="360" y="1831">作業指示書発行</text>
<text x="360" y="1910">検査実績報告書発行</text>
</g>
</svg>
</body></html>
